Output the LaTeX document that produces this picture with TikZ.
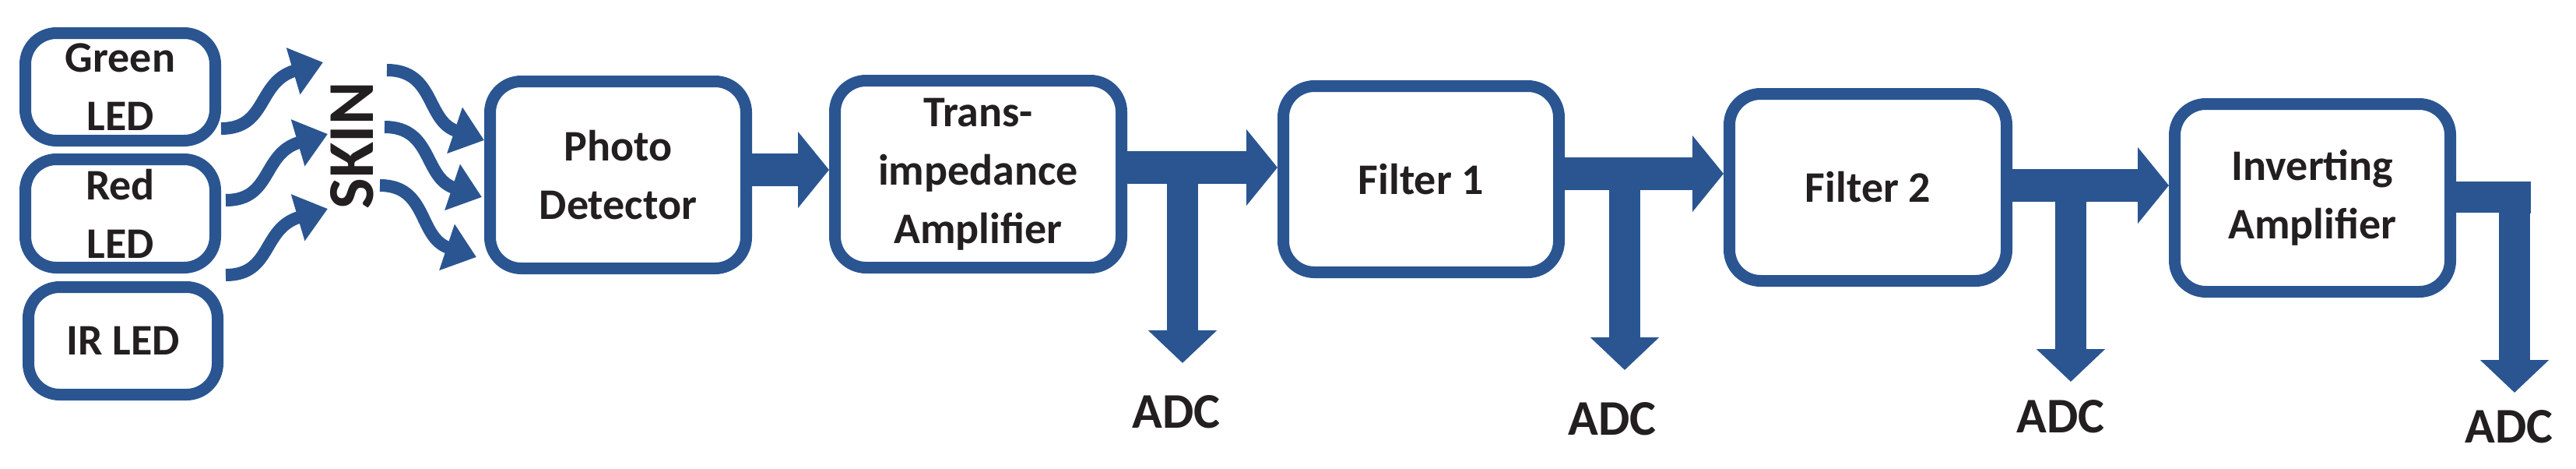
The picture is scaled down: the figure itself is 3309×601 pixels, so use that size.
\documentclass[tikz,border=0pt]{standalone}
\usepackage{fontspec}
\setmainfont{Carlito}
\usetikzlibrary{arrows.meta}
\definecolor{bl}{HTML}{2A5591}
\definecolor{tx}{HTML}{231F20}
\begin{document}
\begin{tikzpicture}[x=0.25pt,y=-0.25pt,
  box/.style={draw=bl,line width=3.75pt,rounded corners=10pt,inner sep=0pt,align=center,
    font=\fontsize{14}{18.75}\selectfont\bfseries,text=tx},
  big/.style={draw=bl,line width=10.5pt,-{Triangle[width=24pt,length=10pt]}},
  down/.style={draw=bl,line width=10pt,-{Triangle[width=21.5pt,length=10.5pt]}},
  wav/.style={draw=bl,line width=4pt,-{Triangle[width=15pt,length=10pt]}},
  adc/.style={font=\fontsize{16}{18}\selectfont\bfseries,text=tx}]
\useasboundingbox (0,0) rectangle (3309,601);
\node[box,minimum width=61pt,minimum height=34.5pt] (g) at (154.5,111.5) {Green\\LED};
\node[box,minimum width=61pt,minimum height=34.75pt] (r) at (154.5,274) {Red\\LED};
\node[box,minimum width=60.75pt,minimum height=34.5pt] (ir) at (158,437.5) {IR LED};
\node[box,minimum width=82.25pt,minimum height=60pt] (pd) at (794,224.5) {Photo\\Detector};
\node[box,minimum width=92pt,minimum height=60pt] (tia) at (1256.5,223.5) {Trans-\\impedance\\Amplifier};
\node[box,minimum width=88.5pt,minimum height=59.75pt] (f1) at (1825.5,230) {Filter 1};
\node[box,minimum width=89pt,minimum height=60pt] (f2) at (2399.5,240.5) {Filter 2};
\node[box,minimum width=88.5pt,minimum height=60.25pt] (ia) at (2970.5,254) {Inverting\\Amplifier};
\node[rotate=90,font=\fontsize{21}{21}\selectfont\bfseries,text=tx] (skin) at (452,187) {SKIN};
% wavy arrows
\coordinate (l1) at (284,165); \coordinate (t1) at (415,80);
\coordinate (l2) at (290,257); \coordinate (t2) at (421,172);
\coordinate (l3) at (290,353); \coordinate (t3) at (421,268);
\coordinate (s1) at (497,90);  \coordinate (p1) at (622,180);
\coordinate (s2) at (494,163); \coordinate (p2) at (619,253);
\coordinate (s3) at (488,238); \coordinate (p3) at (612,330);
\foreach \a/\b in {l1/t1,l2/t2,l3/t3}
  \draw[wav] (\a) .. controls +(60,0) and +(-85,25) .. (\b);
\foreach \a/\b in {s1/p1,s2/p2,s3/p3}
  \draw[wav] (\a) .. controls +(62,0) and +(-75,-25) .. (\b);
% main chain
\draw[big] (pd.east |- 0,218) -- (tia.west |- 0,218);
\draw[big] (tia.east |- 0,215) -- (f1.west |- 0,215);
\draw[big] (f1.east |- 0,223) -- (f2.west |- 0,223);
\draw[big] (f2.east |- 0,238) -- (ia.west |- 0,238);
% ADC branches
\coordinate (b1) at (1519,215); \coordinate (e1) at (1519,466);
\coordinate (b2) at (2087,223); \coordinate (e2) at (2087,475);
\coordinate (b3) at (2660,238); \coordinate (e3) at (2660,490);
\foreach \a/\b in {b1/e1,b2/e2,b3/e3} \draw[down] (\a) -- (\b);
\coordinate (c4) at (3230,253); \coordinate (e4) at (3230,504);
\draw[down] (ia.east |- 0,253) -- (c4) -- (e4);
\draw[bl,line width=0pt,fill=bl] (3210,233) rectangle (3250,273);
\node[adc] (a1) at (1511,529) {ADC};
\node[adc] (a2) at (2071,538) {ADC};
\node[adc] (a3) at (2647,535) {ADC};
\node[adc] (a4) at (3223,548) {ADC};
\end{tikzpicture}
\end{document}
